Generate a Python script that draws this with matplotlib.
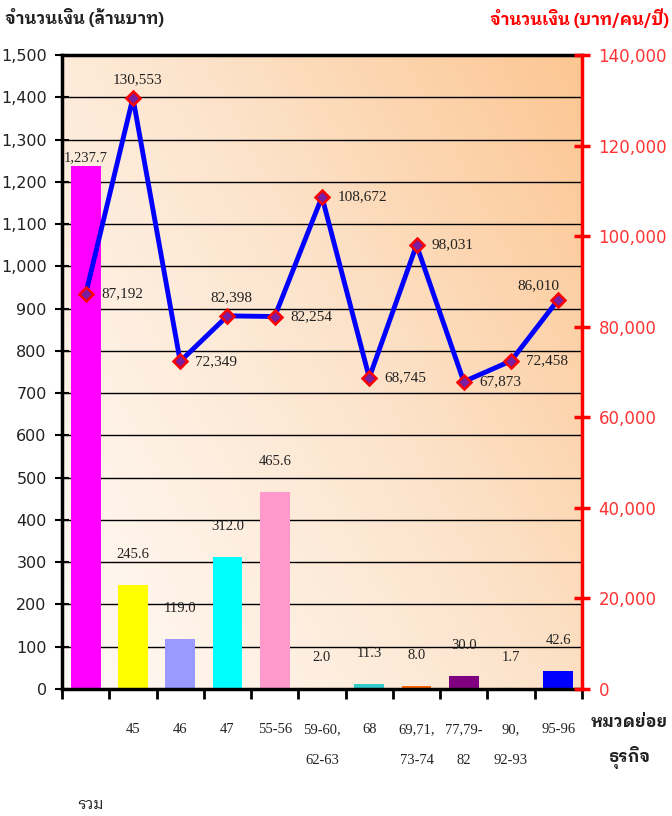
import numpy as np
import matplotlib
matplotlib.use("Agg")
import matplotlib.pyplot as plt
from matplotlib.colors import LinearSegmentedColormap

# data
categories = ["รวม", "45", "46", "47", "55-56", "59-60,\n\n62-63", "68",
              "69,71,\n\n73-74", "77,79-\n\n82", "90,\n\n92-93", "95-96"]
amount = [1237.7, 245.6, 119.0, 312.0, 465.6, 2.0, 11.3, 8.0, 30.0, 1.7, 42.6]
per_head = [87192, 130553, 72349, 82398, 82254, 108672, 68745, 98031, 67873, 72458, 86010]
bar_colors = ["#FF00FF", "#FFFF00", "#9999FF", "#00FFFF", "#FF99CC", "#993366",
              "#33CCCC", "#FF6600", "#800080", "#CCCCFF", "#0000FF"]

thai_font = ["IBM Plex Sans Thai Looped", "Noto Sans Thai Looped", "Noto Sans Thai"]
sans = ["DejaVu Sans"] + thai_font
serif = ["Liberation Serif"] + thai_font
title_font = thai_font + ["DejaVu Sans"]
plt.rcParams["font.family"] = sans

fig = plt.figure(figsize=(6.72, 8.16), dpi=100)
ax = fig.add_axes([0.0923, 0.1556, 0.7737, 0.777])
x = np.arange(len(amount))

# gradient background
g = np.linspace(0, 1, 200)
gx, gy = np.meshgrid(g, g)
grad = (gx * 0.6 + gy * 0.4)
cmap = LinearSegmentedColormap.from_list("bg", ["#FFFBF7", "#FDE6D0", "#FCC692"])
ax.imshow(grad, extent=(-0.5, 10.5, 0, 1500), origin="lower", aspect="auto",
          cmap=cmap, zorder=0)

ax.set_xlim(-0.5, 10.5)
ax.set_ylim(0, 1500)
ax.set_yticks(np.arange(0, 1501, 100))
ax.set_yticklabels([f"{v:,}" for v in range(0, 1501, 100)], fontsize=11.5, color="#222222")
for v in range(100, 1501, 100):
    ax.axhline(v, color="black", lw=1, zorder=1)

ax.bar(x, amount, width=0.63, color=bar_colors, zorder=2)
for i, v in enumerate(amount):
    off = 6 if i == 0 else 22
    ax.annotate(f"{v:,.1f}", (x[i], v), xytext=(0, off), textcoords="offset points",
                ha="center", va="center", fontsize=10.5, family=serif, color="#222222")

ax.set_xticks(np.arange(-0.5, 11, 1))
ax.set_xticklabels([])
ax.tick_params(axis="x", direction="out", length=7, width=2)
ax.tick_params(axis="y", direction="inout", length=10, width=1.5, pad=6)
for i, c in enumerate(categories):
    if i == 0:
        fig.text(0.134, 0.014, c, ha="center", va="center", fontsize=11,
                 family=title_font, color="#222222")
        continue
    ax.text(x[i], -0.054, c, transform=ax.get_xaxis_transform(), ha="center",
            va="top", fontsize=10.5, family=serif, linespacing=1.25, color="#222222")
for s in ["left", "bottom", "top"]:
    ax.spines[s].set_linewidth(2.5)
ax.spines["right"].set_visible(False)

ax2 = ax.twinx()
ax2.set_ylim(0, 140000)
ax2.set_yticks(np.arange(0, 140001, 20000))
ax2.set_yticklabels([f"{v:,}" for v in range(0, 140001, 20000)], fontsize=12, color="#FF3333")
ax2.tick_params(axis="y", direction="inout", length=12, width=2.5, color="red", pad=6)
ax2.spines["right"].set_color("red")
ax2.spines["right"].set_linewidth(2.5)
for s in ["left", "bottom", "top"]:
    ax2.spines[s].set_visible(False)
ax2.plot(x, per_head, color="#0000FF", lw=3.5, marker="D", ms=7,
         mfc="#7A1FA2", mec="red", mew=1.8, zorder=5, clip_on=False)

pos = ["r", "t", "r", "t", "r", "r", "r", "r", "r", "r", "tl"]
for i, v in enumerate(per_head):
    if pos[i] == "r":
        xy, ha = (11, 0), "left"
    elif pos[i] == "t":
        xy, ha = (3, 13), "center"
    else:
        xy, ha = (-14, 10), "center"
    ax2.annotate(f"{v:,}", (x[i], v), xytext=xy, textcoords="offset points",
                 ha=ha, va="center", fontsize=11, family=serif, color="#222222")

fig.text(0.008, 0.978, "จำนวนเงิน (ล้านบาท)", fontsize=12, fontweight="bold",
         ha="left", va="center", color="#222222", family=title_font)
fig.text(0.995, 0.978, "จำนวนเงิน (บาท/คน/ปี)", fontsize=12, fontweight="bold",
         ha="right", va="center", color="#FF0000", family=title_font)
fig.text(0.937, 0.091, "หมวดย่อย\nธุรกิจ", fontsize=12, fontweight="bold",
         ha="center", va="center", linespacing=2.0, color="#222222", family=title_font)

fig.savefig("out.png", dpi=100)
